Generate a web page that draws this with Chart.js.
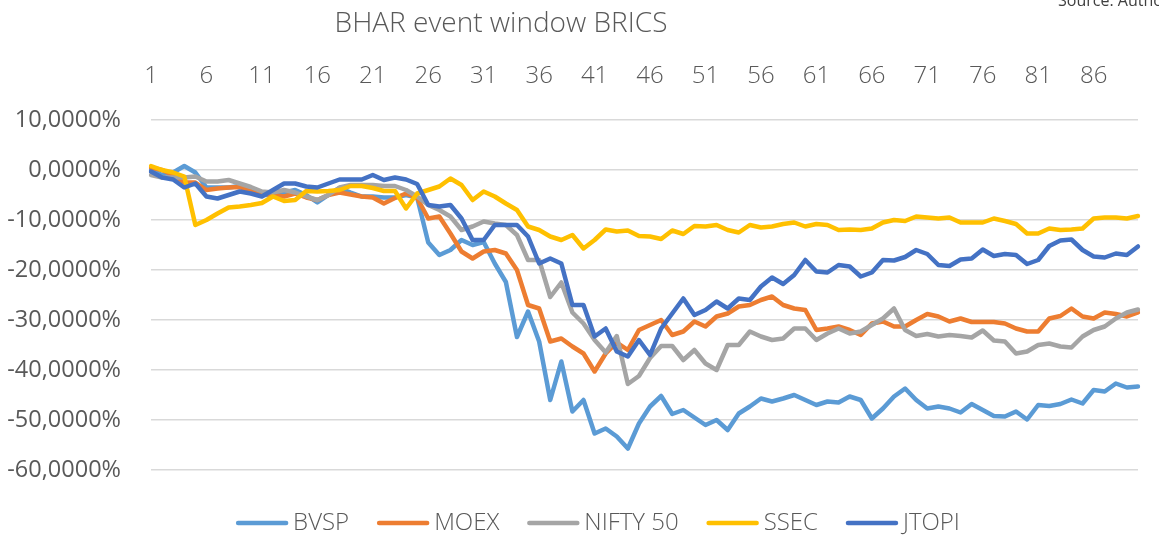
<!DOCTYPE html>
<html><head><meta charset="utf-8">
<script src="https://cdn.jsdelivr.net/npm/chart.js@4.4.1/dist/chart.umd.min.js"></script>
<style>html,body{margin:0;padding:0;background:#fff;overflow:hidden}</style>
</head><body>
<canvas id="c" width="1159" height="535"></canvas>
<script>
const chartTitle = 'BHAR event window BRICS';
const sourceNote = 'Source: Authors';
const days = Array.from({length: 90}, (_, i) => String(i + 1));
const xTickLabels = ['1','6','11','16','21','26','31','36','41','46','51','56','61','66','71','76','81','86'];
const yTicks = [10, 0, -10, -20, -30, -40, -50, -60];
const seriesNames = ['BVSP', 'MOEX', 'NIFTY 50', 'SSEC', 'JTOPI'];
const seriesColors = ['#5B9BD5', '#ED7D31', '#A5A5A5', '#FFC000', '#4472C4'];

const bvsp = [0,-1,-0.5,0.8,-0.5,-3.5,-3.5,-3.5,-3.2,-4.5,-5,-5,-4.5,-4,-5,-6.5,-5,-3.6,-4.5,-5.3,
  -5.3,-5.5,-5.5,-5,-5.5,-14.5,-17,-16,-14,-15,-14.4,-18.7,-22.4,-33.4,-28.3,-34.3,-46,-38.3,-48.3,-46,
  -52.7,-51.7,-53.3,-55.7,-50.7,-47.3,-45.2,-48.8,-48,-49.5,-51,-50,-52,-48.7,-47.3,-45.7,-46.3,-45.7,-45,-46,
  -47,-46.3,-46.5,-45.3,-46,-49.7,-47.7,-45.3,-43.7,-46,-47.7,-47.3,-47.7,-48.5,-46.8,-48,-49.2,-49.3,-48.3,-49.9,
  -47,-47.2,-46.8,-45.9,-46.7,-44,-44.3,-42.7,-43.5,-43.3];
const moex = [0.5,0,-1,-2.5,-2.5,-4,-3.7,-3.5,-3.4,-4,-4.7,-5,-5.3,-4.7,-5.5,-6,-5,-4.5,-4.9,-5.3,
  -5.5,-6.7,-5.6,-4.7,-5.6,-9.7,-9.3,-12.7,-16.3,-17.7,-16.3,-16,-16.7,-20,-27,-27.7,-34.3,-33.7,-35.3,-36.7,
  -40.3,-36.7,-34.5,-36,-32,-31,-30,-33,-32.3,-30.3,-31.3,-29.3,-28.7,-27.3,-27,-26,-25.3,-27,-27.7,-28,
  -32,-31.7,-31.3,-32,-33,-30.7,-30.3,-31.3,-31.3,-30,-28.8,-29.3,-30.3,-29.7,-30.4,-30.4,-30.4,-30.7,-31.7,-32.3,
  -32.3,-29.7,-29.2,-27.7,-29.3,-29.7,-28.5,-28.8,-29.3,-28.5];
const nifty50 = [-1,-1.5,-1.5,-1.5,-1.3,-2.3,-2.3,-2,-2.7,-3.4,-4.3,-4.5,-4,-4.5,-5.3,-6,-5,-3.5,-3,-3,
  -3,-3.2,-3.2,-4,-5.3,-7,-8,-9.3,-12,-11.3,-10.3,-10.7,-11,-13,-18,-18,-25.4,-22.5,-28.5,-30.7,
  -34,-36.5,-33.2,-42.8,-41.2,-37.6,-35.2,-35.2,-38,-36,-38.7,-40,-35,-35,-32.3,-33.3,-34,-33.7,-31.7,-31.7,
  -34,-32.7,-31.7,-32.7,-32.3,-31,-29.7,-27.7,-32,-33.2,-32.8,-33.3,-33,-33.2,-33.5,-32.1,-34.1,-34.3,-36.7,-36.3,
  -35,-34.7,-35.3,-35.5,-33.3,-32,-31.3,-29.7,-28.5,-27.9];
const ssec = [0.8,0,-0.5,-1.3,-11,-10,-8.7,-7.5,-7.3,-7,-6.6,-5.3,-6.2,-6,-4.2,-4.3,-4.2,-4,-3.2,-3.2,
  -3.6,-4.2,-4.2,-7.7,-4.7,-4,-3.3,-1.7,-3,-6,-4.3,-5.3,-6.7,-8,-11.3,-12,-13.3,-14,-13,-15.7,
  -14,-11.9,-12.3,-12.1,-13.2,-13.3,-13.8,-12.1,-12.8,-11.2,-11.3,-11,-12,-12.5,-11,-11.5,-11.3,-10.8,-10.5,-11.3,
  -10.8,-11,-12,-11.9,-12,-11.7,-10.5,-10,-10.2,-9.3,-9.5,-9.7,-9.5,-10.5,-10.5,-10.5,-9.7,-10.2,-10.8,-12.7,
  -12.7,-11.7,-12,-11.9,-11.7,-9.7,-9.5,-9.5,-9.7,-9.2];
const jtopi = [-0.3,-1.5,-1.9,-3.5,-2.7,-5.3,-5.7,-5,-4.3,-4.7,-5.3,-4,-2.7,-2.7,-3.3,-3.5,-2.7,-1.9,-1.9,-1.9,
  -1,-2,-1.5,-1.9,-2.8,-7,-7.3,-7,-9.7,-14,-14,-11,-11,-11,-13.3,-18.7,-17.7,-18.7,-27,-27,
  -33.3,-31.7,-36.3,-37.3,-34,-37,-31.7,-28.7,-25.7,-29,-28,-26.3,-27.7,-25.7,-26,-23.3,-21.5,-22.8,-21,-18,
  -20.3,-20.5,-19,-19.3,-21.3,-20.5,-18,-18.1,-17.4,-16,-16.8,-19,-19.2,-17.9,-17.7,-15.9,-17.2,-16.8,-17,-18.8,
  -18,-15.2,-14.1,-13.9,-16,-17.3,-17.5,-16.7,-17,-15.3];

const seriesValues = [bvsp, moex, nifty50, ssec, jtopi];
const TEXT = '#595959';

const textPlugin = {
  id: 'texts',
  afterDraw(chart) {
    const ctx = chart.ctx;
    ctx.save();
    ctx.fillStyle = TEXT;
    ctx.font = '300 28px "Open Sans"';
    ctx.textAlign = 'center';
    ctx.textBaseline = 'middle';
    ctx.fillText(chartTitle, 501, 24);
    ctx.font = '16px "Open Sans"';
    ctx.textAlign = 'left';
    ctx.textBaseline = 'alphabetic';
    ctx.fillStyle = '#404040';
    ctx.fillText(sourceNote, 1058, 6);
    // legend
    ctx.font = '300 24px "Open Sans"';
    const lineLen = 52, gapText = 5, gapItem = 28;
    const items = chart.data.datasets.map(d => ({label: d.label, color: d.borderColor, w: ctx.measureText(d.label).width}));
    let total = 0;
    items.forEach((it, i) => { total += lineLen + gapText + it.w + (i ? gapItem : 0); });
    let x = 598 - total / 2;
    const y = 523;
    items.forEach(it => {
      ctx.strokeStyle = it.color;
      ctx.lineWidth = 4.5;
      ctx.lineCap = 'round';
      ctx.beginPath();
      ctx.moveTo(x + 2, y);
      ctx.lineTo(x + lineLen - 2, y);
      ctx.stroke();
      ctx.fillStyle = TEXT;
      ctx.textBaseline = 'middle';
      ctx.fillText(it.label, x + lineLen + gapText, y);
      x += lineLen + gapText + it.w + gapItem;
    });
    ctx.restore();
  }
};

new Chart(document.getElementById('c'), {
  type: 'line',
  data: {
    labels: days,
    datasets: seriesNames.map((name, i) => ({
      label: name,
      data: seriesValues[i],
      borderColor: seriesColors[i],
      backgroundColor: seriesColors[i],
      borderWidth: 4.5,
      pointRadius: 0,
      tension: 0,
      fill: false,
      borderCapStyle: 'round',
      borderJoinStyle: 'round',
      order: seriesNames.length - i
    }))
  },
  options: {
    responsive: false,
    animation: false,
    devicePixelRatio: 1,
    layout: {padding: {top: 0, left: 0, right: 1, bottom: 65}},
    plugins: {legend: {display: false}, title: {display: false}, tooltip: {enabled: false}},
    scales: {
      x: {
        type: 'category',
        position: 'top',
        offset: false,
        grid: {display: false},
        border: {display: false},
        ticks: {
          autoSkip: false, maxRotation: 0, minRotation: 0, padding: 21, color: TEXT,
          font: {family: 'Open Sans', size: 24, weight: 300},
          callback: function(v) { const l = this.getLabelForValue(v); return xTickLabels.includes(l) ? l : ''; }
        },
        afterFit: s => { s.height = 120; }
      },
      y: {
        min: -60, max: 10,
        afterBuildTicks: s => { s.ticks = yTicks.map(v => ({value: v})); },
        ticks: {
          padding: 30, color: TEXT,
          font: {family: 'Open Sans', size: 23.5},
          callback: v => v.toFixed(4).replace('.', ',') + '%'
        },
        grid: {color: '#d9d9d9', lineWidth: 1.5, drawTicks: false},
        border: {display: false},
        afterFit: s => { s.width = 151; }
      }
    }
  },
  plugins: [textPlugin]
});
</script>
</body></html>
